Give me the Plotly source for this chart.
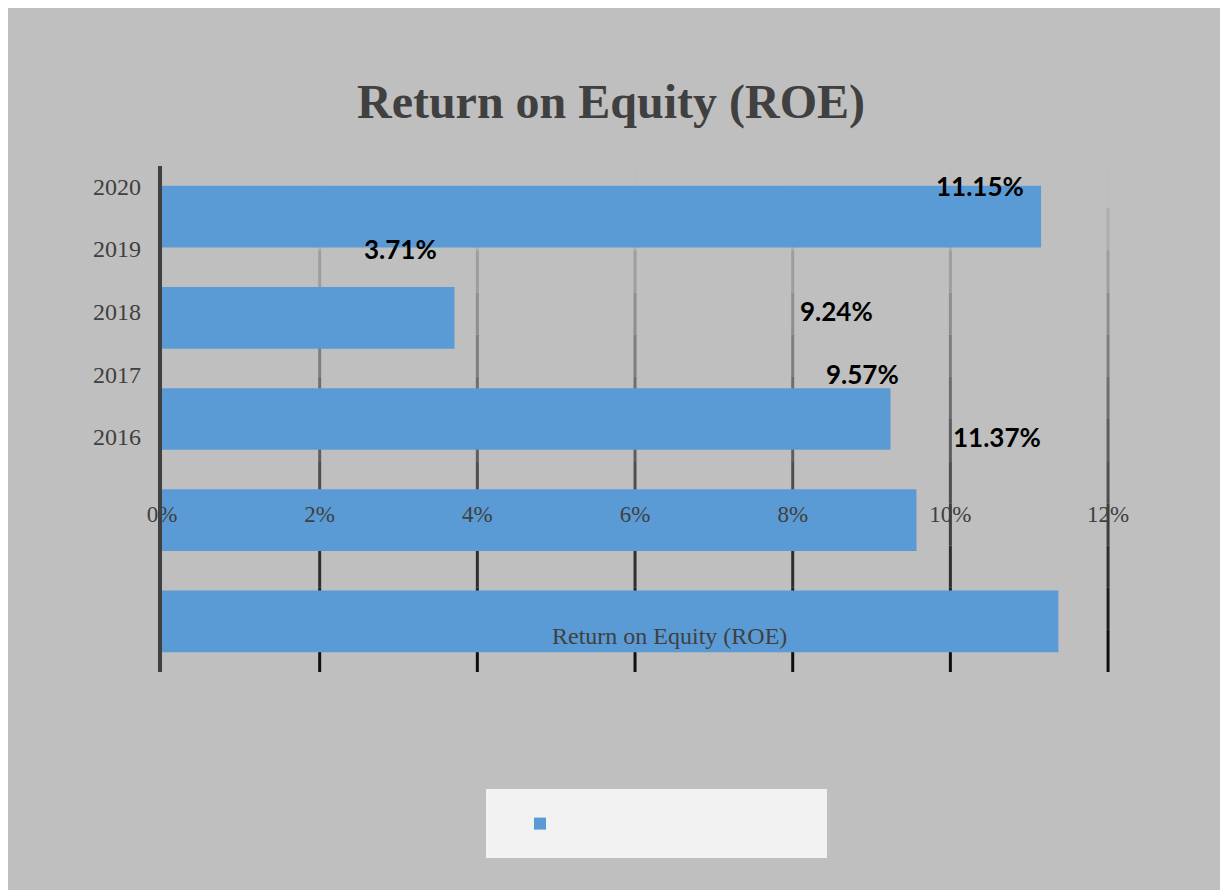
import plotly.graph_objects as go

# Chart data
years = ["2016", "2017", "2018", "2019", "2020"]
roe = [11.37, 9.57, 9.24, 3.71, 11.15]
x_ticks = [0, 2, 4, 6, 8, 10, 12]

W, H = 1228, 890
OFF = 8  # page body margin
bar_color = "#5b9bd5"
bg_color = "#bfbfbf"
serif = "Liberation Serif, Times New Roman, serif"


def px_x(px):
    return (px - OFF) / W


def px_y(px):
    return 1 - (px - OFF) / H


fig = go.Figure()

fig.add_trace(go.Bar(
    x=roe,
    y=years,
    orientation="h",
    name=" ",
    marker=dict(color=bar_color, line_width=0),
    width=0.61,
    showlegend=True,
    hoverinfo="x+y",
))

# Data labels, offset left of the bar ends (as in the source rendering)
for i, (yr, v) in enumerate(zip(years, roe)):
    fig.add_annotation(
        x=v, xref="x", y=i, yref="y2",
        text=f"<b>{v:.2f}%</b>",
        showarrow=False, xanchor="right", yanchor="middle", xshift=-15,
        font=dict(family="Lato, Open Sans, sans-serif", size=26, color="#000000"),
    )

# Gradient gridlines (light at top, dark at bottom)
n_seg = 12
for xv in x_ticks[1:]:
    for s in range(n_seg):
        t = s / (n_seg - 1)
        c = int(190 - t * 175)
        fig.add_shape(
            type="line", xref="x", yref="y domain",
            x0=xv, x1=xv,
            y0=1 - s / n_seg, y1=1 - (s + 1) / n_seg,
            line=dict(color=f"rgb({c},{c},{c})", width=3),
            layer="below",
        )

# Legend box
fig.add_shape(
    type="rect", xref="paper", yref="paper",
    x0=px_x(486), x1=px_x(827), y0=px_y(789), y1=px_y(858),
    fillcolor="#f2f2f2", line_width=0, layer="below",
)

# Misplaced axis title
fig.add_annotation(
    x=px_x(669), y=px_y(636), xref="paper", yref="paper",
    xanchor="center", yanchor="middle",
    text="Return on Equity (ROE)", showarrow=False,
    font=dict(family=serif, size=24, color="#404040"),
)

fig.update_layout(
    width=W, height=H,
    margin=dict(l=0, r=0, t=0, b=0, autoexpand=False),
    paper_bgcolor=bg_color,
    plot_bgcolor="rgba(0,0,0,0)",
    title=dict(
        text="<b>Return on Equity (ROE)</b>",
        x=px_x(611), xanchor="center", y=px_y(101), yanchor="middle",
        font=dict(family=serif, size=48, color="#404040"),
    ),
    xaxis=dict(
        domain=[px_x(162), px_x(1112)],
        range=[0, 12.05],
        tickvals=x_ticks,
        ticktext=[f"{v}%" for v in x_ticks],
        showgrid=False, zeroline=False, showline=False,
        anchor="free", position=px_y(498), automargin=False,
        tickfont=dict(family=serif, size=23, color="#404040"),
    ),
    yaxis=dict(
        domain=[px_y(672), px_y(166)],
        range=[-0.5, 4.5],
        showticklabels=False,
        showgrid=False, zeroline=False, automargin=False,
        showline=True, linecolor="#404040", linewidth=4,
    ),
    yaxis2=dict(
        domain=[px_y(468), px_y(155)],
        range=[-0.5, 4.5],
        tickvals=list(range(len(years))),
        ticktext=years,
        showgrid=False, zeroline=False, showline=False,
        anchor="free", position=px_x(162), automargin=False,
        ticklabelstandoff=21,
        tickfont=dict(family=serif, size=24, color="#404040"),
    ),
    legend=dict(
        x=px_x(520), y=px_y(824), xanchor="left", yanchor="middle",
        bgcolor="rgba(0,0,0,0)",
        font=dict(size=14),
    ),
    bargap=0.39,
)

fig.write_html("out.html")
